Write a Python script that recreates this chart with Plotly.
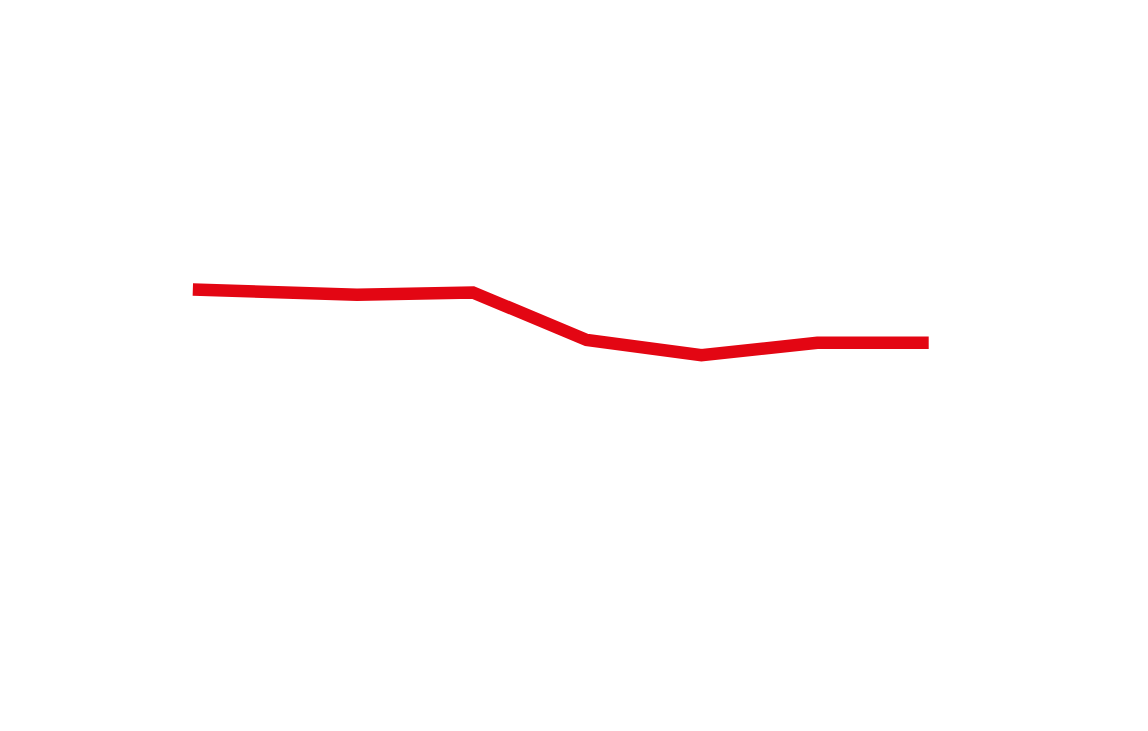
import plotly.graph_objects as go

x_vals = [16.8, 21.2, 31.1, 41.2, 51.1, 61.1, 71.2, 80.9]
y_vals = [60.4, 60.3, 59.7, 60.0, 53.5, 51.4, 53.1, 53.1]

fig = go.Figure(go.Scatter(x=x_vals, y=y_vals, mode="lines",
                           line=dict(color="#e30613", width=12.5),
                           hoverinfo="skip"))
fig.update_layout(width=1148, height=731, margin=dict(l=0, r=0, t=0, b=0),
                  paper_bgcolor="white", plot_bgcolor="white", showlegend=False)
fig.update_xaxes(range=[0.7, 100.7], visible=False)
fig.update_yaxes(range=[-1.09, 98.91], visible=False)
fig.write_html("out.html")
